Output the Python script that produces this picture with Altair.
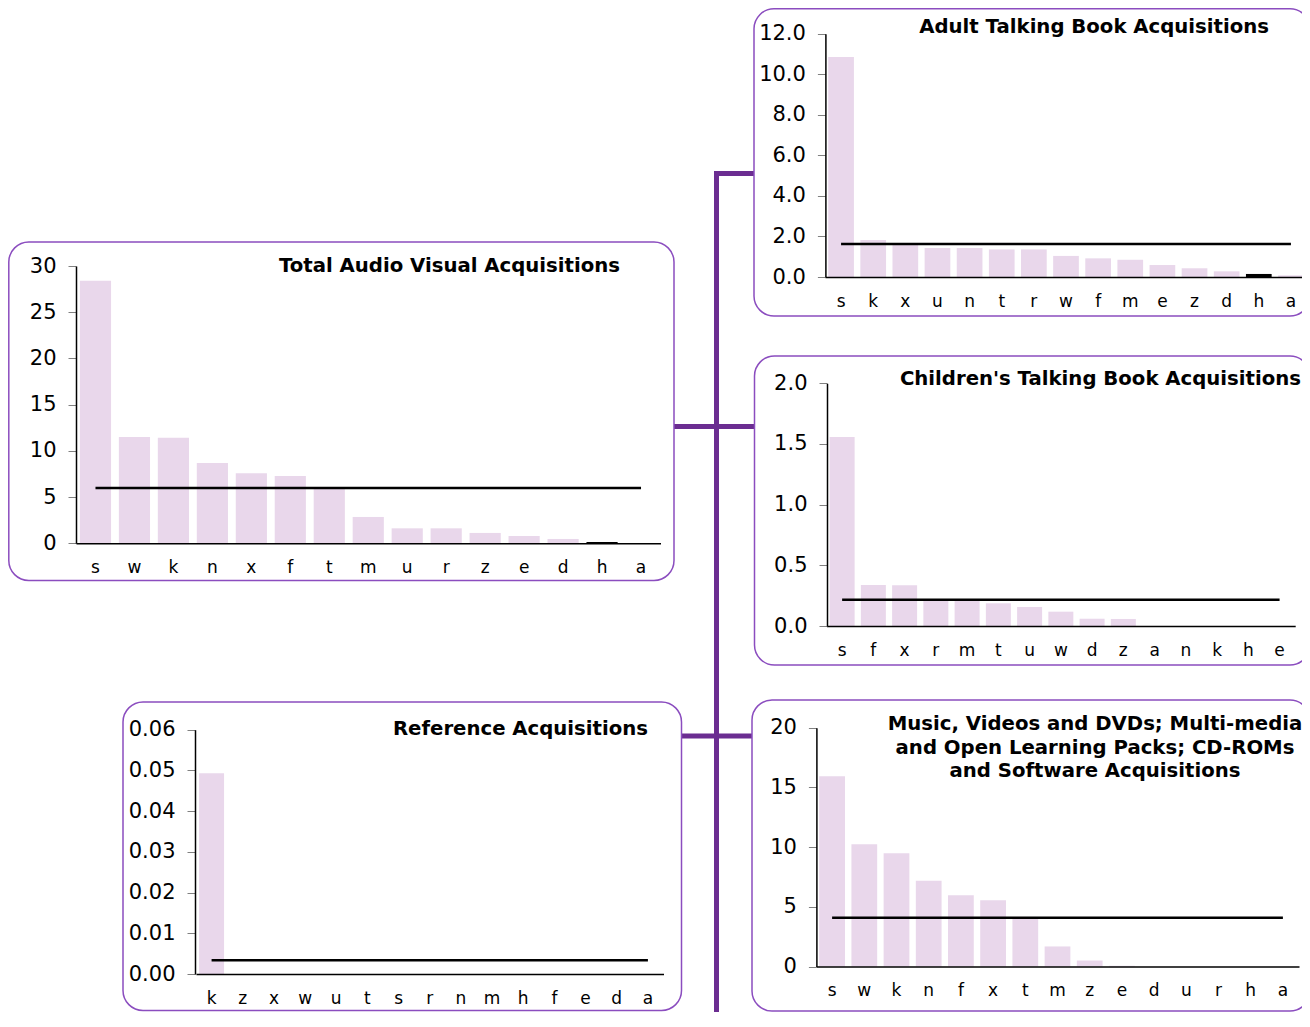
import altair as alt
import pandas as pd

# ---------------- data ----------------
highlight = "h"

tav_title = "Total Audio Visual Acquisitions"
tav_cats = ["s", "w", "k", "n", "x", "f", "t", "m", "u", "r", "z", "e", "d", "h", "a"]
tav_vals = [28.4, 11.5, 11.43, 8.69, 7.57, 7.28, 5.95, 2.85, 1.62, 1.62, 1.12, 0.79, 0.47, 0.14, 0.0]
tav_avg = 5.98
tav_ticks = [0, 5, 10, 15, 20, 25, 30]

atb_title = "Adult Talking Book Acquisitions"
atb_cats = ["s", "k", "x", "u", "n", "t", "r", "w", "f", "m", "e", "z", "d", "h", "a"]
atb_vals = [10.85, 1.82, 1.6, 1.43, 1.43, 1.36, 1.36, 1.04, 0.92, 0.85, 0.59, 0.43, 0.28, 0.15, 0.08]
atb_avg = 1.63
atb_ticks = [0, 2, 4, 6, 8, 10, 12]

ctb_title = "Children's Talking Book Acquisitions"
ctb_cats = ["s", "f", "x", "r", "m", "t", "u", "w", "d", "z", "a", "n", "k", "h", "e"]
ctb_vals = [1.558, 0.338, 0.335, 0.215, 0.215, 0.187, 0.157, 0.118, 0.06, 0.058, 0, 0, 0, 0, 0]
ctb_avg = 0.217
ctb_ticks = [0, 0.5, 1.0, 1.5, 2.0]

mus_title = ["Music, Videos and DVDs; Multi-media",
             "and Open Learning Packs; CD-ROMs",
             "and Software Acquisitions"]
mus_cats = ["s", "w", "k", "n", "f", "x", "t", "m", "z", "e", "d", "u", "r", "h", "a"]
mus_vals = [15.94, 10.24, 9.48, 7.19, 5.96, 5.54, 4.06, 1.68, 0.5, 0.06, 0, 0, 0, 0, 0]
mus_avg = 4.08
mus_ticks = [0, 5, 10, 15, 20]

ref_title = "Reference Acquisitions"
ref_cats = ["k", "z", "x", "w", "u", "t", "s", "r", "n", "m", "h", "f", "e", "d", "a"]
ref_vals = [0.0493, 0, 0, 0, 0, 0, 0, 0, 0, 0, 0, 0, 0, 0, 0]
ref_avg = 0.00336
ref_ticks = [0, 0.01, 0.02, 0.03, 0.04, 0.05, 0.06]

# ---------------- layout (page pixels) ----------------
W, H = 1294, 1004
OFF = 8
BAR = "#E9D7EB"
BOX = "#8B4DBF"
CONN = "#6B2D91"
FONT = "DejaVu Sans"


def P(v):
    return v - OFF


lay_tav = dict(ax=76, bx0=76, bx1=660.5, y0=543.3, y1=266,
               box=(8.8, 674, 242, 580.5), tx=620, ty=266, align="right")
lay_atb = dict(ax=825.4, bx0=825, bx1=1307, y0=277, y1=33.7,
               box=(754, 1310, 8.8, 316), tx=1269, ty=27, align="right")
lay_ctb = dict(ax=827, bx0=826.5, bx1=1295.2, y0=626, y1=383.3,
               box=(754.5, 1310, 356, 665), tx=1301, ty=379, align="right")
lay_mus = dict(ax=816.4, bx0=816, bx1=1299, y0=966.5, y1=727.7,
               box=(752, 1310, 700, 1011), tx=1095, ty=724, align="center")
lay_ref = dict(ax=195, bx0=196, bx1=663.5, y0=974, y1=729.7,
               box=(123, 681.5, 702, 1010.5), tx=648, ty=729, align="right")

connectors = [
    (714, 719, 171, 1030),
    (714, 755, 171, 176),
    (673, 756, 424, 429),
    (681, 753, 733.5, 738.5),
]


def panel(cats, vals, avg, ticks, fmt, lay, hl=None):
    df = pd.DataFrame({"cat": cats, "val": vals, "avg": [avg] * len(cats)})
    xs = alt.Scale(domain=cats, range=[P(lay["bx0"]), P(lay["bx1"])],
                   paddingInner=0.2, paddingOuter=0.1)
    ys = alt.Scale(domain=[ticks[0], ticks[-1]], range=[P(lay["y0"]), P(lay["y1"])],
                   nice=False, zero=False)
    xaxis = alt.Axis(orient="bottom", offset=P(lay["y0"]) - H, title=None, labelAngle=0,
                     ticks=False, tickSize=0, labelPadding=16, domainColor="black",
                     domainWidth=1.5, labelFontSize=17, labelColor="black", grid=False,
                     labelFont=FONT, zindex=2)
    yaxis = alt.Axis(orient="left", offset=-P(lay["ax"]), title=None, values=ticks,
                     format=fmt, tickSize=8, tickColor="#808080", tickWidth=1,
                     labelPadding=12, labelFontSize=21, labelColor="black",
                     domainColor="black", domainWidth=1.5, grid=False,
                     labelOverlap=False, labelFont=FONT, zindex=2)
    if hl is not None:
        color = alt.condition(alt.datum.cat == hl, alt.value("black"), alt.value(BAR))
    else:
        color = alt.value(BAR)
    bars = alt.Chart(df).mark_bar().encode(
        x=alt.X("cat:N", sort=cats, scale=xs, axis=xaxis),
        y=alt.Y("val:Q", scale=ys, axis=yaxis),
        color=color,
    )
    line = alt.Chart(df).mark_line(color="black", strokeWidth=2.5, strokeCap="butt").encode(
        x=alt.X("cat:N", sort=cats, scale=xs, axis=xaxis),
        y=alt.Y("avg:Q", scale=ys, axis=yaxis),
    )
    return alt.layer(bars, line)


def title_layer(text, lay):
    one = pd.DataFrame({"k": [0]})
    return alt.Chart(one).mark_text(
        font=FONT, fontWeight="bold", fontSize=19.7, color="black",
        align=lay["align"], baseline="middle", lineHeight=23.5,
    ).encode(x=alt.value(P(lay["tx"])), y=alt.value(P(lay["ty"])), text=alt.value(text))


# decorations
conn_df = pd.DataFrame({
    "x": [P(c[0]) for c in connectors], "x2": [P(c[1]) for c in connectors],
    "y": [P(c[2]) for c in connectors], "y2": [P(c[3]) for c in connectors],
})
conn = alt.Chart(conn_df).mark_rect(color=CONN).encode(
    x=alt.X("x:Q", scale=None, axis=None), x2="x2",
    y=alt.Y("y:Q", scale=None, axis=None), y2="y2",
)

lays = [lay_tav, lay_atb, lay_ctb, lay_mus, lay_ref]
box_df = pd.DataFrame({
    "x": [P(l["box"][0]) for l in lays], "x2": [P(l["box"][1]) for l in lays],
    "y": [P(l["box"][2]) for l in lays], "y2": [P(l["box"][3]) for l in lays],
})
boxes = alt.Chart(box_df).mark_rect(fill="white", stroke=BOX, strokeWidth=1.5,
                                     cornerRadius=20).encode(
    x=alt.X("x:Q", scale=None, axis=None), x2="x2",
    y=alt.Y("y:Q", scale=None, axis=None), y2="y2",
)

p_tav = panel(tav_cats, tav_vals, tav_avg, tav_ticks, "d", lay_tav, highlight)
p_atb = panel(atb_cats, atb_vals, atb_avg, atb_ticks, ".1f", lay_atb, highlight)
p_ctb = panel(ctb_cats, ctb_vals, ctb_avg, ctb_ticks, ".1f", lay_ctb)
p_mus = panel(mus_cats, mus_vals, mus_avg, mus_ticks, "d", lay_mus)
p_ref = panel(ref_cats, ref_vals, ref_avg, ref_ticks, ".2f", lay_ref)

chart = alt.layer(
    conn, boxes,
    p_tav, p_atb, p_ctb, p_mus, p_ref,
    title_layer(tav_title, lay_tav),
    title_layer(atb_title, lay_atb),
    title_layer(ctb_title, lay_ctb),
    title_layer(mus_title, lay_mus),
    title_layer(ref_title, lay_ref),
).resolve_scale(x="independent", y="independent").properties(
    width=W, height=H, autosize=alt.AutoSizeParams(type="none"), padding=0,
).configure(font=FONT).configure_view(stroke=None)

chart.save("out.html", embed_options={"renderer": "svg", "actions": False})
